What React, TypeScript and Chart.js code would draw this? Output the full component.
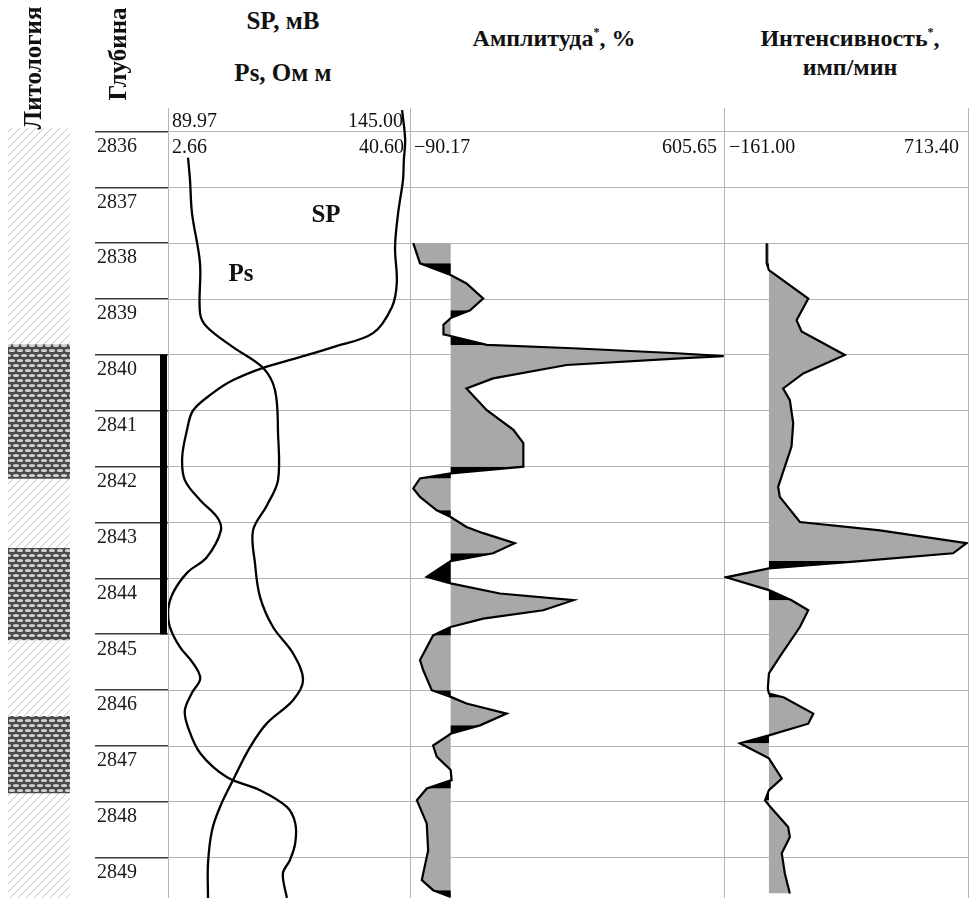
import React, { useEffect, useRef } from "react";
import { Chart, registerables } from "chart.js";

Chart.register(...registerables);
Chart.defaults.font.family = "'Liberation Serif', 'Times New Roman', serif";
Chart.defaults.color = "#000";

// ---------- data ----------
const DEPTH_MIN = 2835.58;
const DEPTH_MAX = 2849.72;
const depthTicks = [2836, 2837, 2838, 2839, 2840, 2841, 2842, 2843, 2844, 2845, 2846, 2847, 2848, 2849];

const spRange = [89.97, 145.0];
const psRange = [2.66, 40.6];
const ampRange = [-90.17, 605.65];
const intRange = [-161.0, 713.4];

const spDepth = [2835.62, 2836.15, 2836.51, 2836.87, 2837.46, 2838.07, 2838.71, 2839.14, 2839.61, 2839.86, 2840.04, 2840.23, 2840.45, 2840.68, 2840.99, 2841.34, 2841.83, 2842.24, 2842.6, 2842.9, 2843.14, 2843.62, 2843.9, 2844.26, 2844.57, 2844.87, 2845.23, 2845.52, 2845.79, 2846.05, 2846.36, 2846.66, 2847.13, 2847.56, 2847.79, 2848.09, 2848.38, 2848.74, 2849.04, 2849.28, 2849.72];
const spValues = [143.2, 143.9, 143.6, 143.4, 142.3, 141.6, 142.0, 140.9, 136.6, 127.5, 120.0, 111.6, 104.8, 100.2, 95.7, 94.3, 93.2, 93.8, 97.3, 101.1, 102.0, 98.8, 94.3, 91.1, 90.0, 90.4, 92.7, 95.7, 97.3, 95.4, 93.8, 94.5, 97.3, 103.4, 110.9, 117.0, 118.9, 118.9, 117.7, 116.1, 117.0];

const psDepth = [2836.47, 2836.87, 2837.46, 2838.36, 2839.25, 2839.5, 2839.86, 2840.23, 2840.63, 2841.4, 2842.24, 2842.69, 2843.14, 2843.73, 2844.33, 2844.87, 2845.34, 2845.82, 2846.18, 2846.59, 2847.02, 2847.61, 2848.09, 2848.51, 2849.1, 2849.72];
const psValues = [5.8, 6.11, 6.42, 7.68, 7.68, 8.77, 12.85, 17.55, 19.44, 19.91, 19.91, 18.18, 15.99, 16.3, 17.08, 19.12, 22.26, 23.83, 22.26, 18.18, 15.52, 12.85, 10.81, 9.56, 8.93, 8.93];

const ampDepth = [2838.0, 2838.36, 2838.57, 2838.72, 2838.99, 2839.2, 2839.34, 2839.46, 2839.63, 2839.66, 2839.82, 2839.88, 2839.97, 2840.02, 2840.06, 2840.18, 2840.42, 2840.6, 2840.99, 2841.34, 2841.58, 2842.0, 2842.12, 2842.21, 2842.39, 2842.54, 2842.78, 2842.9, 2843.08, 2843.19, 2843.37, 2843.55, 2843.69, 2843.97, 2844.09, 2844.27, 2844.39, 2844.57, 2844.72, 2844.87, 2845.02, 2845.46, 2845.64, 2846.0, 2846.12, 2846.24, 2846.42, 2846.63, 2846.78, 2846.99, 2847.19, 2847.43, 2847.61, 2847.76, 2847.97, 2848.39, 2848.87, 2849.4, 2849.58, 2849.7];
const ampValues = [-83, -68, 0, 35, 72, 43, 0, -16, -16, 0, 80, 271, 501, 605, 508, 257, 94, 35, 80, 139, 161, 161, 0, -68, -83, -68, -31, 0, 35, 72, 142, 94, 0, -53, 0, 109, 272, 205, 72, 0, -39, -68, -61, -42, 0, 35, 124, 65, 0, -39, -31, 0, 2, -53, -75, -53, -50, -64, -39, 0];
// depths where a dark (black) shaded segment begins
const ampDarkFrom = [2838.36, 2839.2, 2839.66, 2842.0, 2842.12, 2842.78, 2843.55, 2843.97, 2844.87, 2846.0, 2846.63, 2847.61, 2849.58];

const intDepth = [2838.0, 2838.36, 2838.48, 2838.99, 2839.38, 2839.58, 2840.0, 2840.33, 2840.6, 2840.81, 2841.22, 2841.64, 2842.36, 2842.54, 2842.99, 2843.14, 2843.37, 2843.55, 2843.69, 2843.82, 2843.98, 2844.21, 2844.39, 2844.57, 2844.87, 2845.4, 2845.7, 2845.97, 2846.06, 2846.13, 2846.42, 2846.6, 2846.81, 2846.95, 2847.22, 2847.58, 2847.79, 2847.97, 2848.06, 2848.45, 2848.63, 2848.92, 2849.28, 2849.64];
const intValues = [-8, -8, 0, 141, 99, 117, 272, 123, 51, 75, 87, 81, 33, 39, 111, 398, 708, 660, 326, 0, -154, 0, 81, 141, 111, 39, 0, -4, 0, 54, 159, 141, 0, -104, 0, 46, 0, -14, 0, 69, 75, 46, 57, 75];
const intDarkFrom = [2838.36, 2843.69, 2844.21, 2846.06, 2846.81, 2847.79];

const lithHatch = [2835.95, 2849.72];
const sandIntervals = [
  [2839.82, 2842.21],
  [2843.46, 2845.1],
  [2846.47, 2847.84],
];
const perforation = [2840.0, 2845.0];

// ---------- helpers ----------
const TOP = 108;
const PH = 898 - TOP;
const GRID = "#b4b4b4";
const FILL_GRAY = "#a8a8a8";

const fmt = (v: number) => v.toFixed(2).replace("-", "\u2212");

function depthScale(opts: { grid?: boolean; color?: string; width?: number; labels?: boolean }) {
  return {
    type: "linear",
    min: DEPTH_MIN,
    max: DEPTH_MAX,
    reverse: true,
    position: "left",
    afterFit: (s: any) => {
      s.width = 0;
      s.paddingTop = 0;
      s.paddingBottom = 0;
      s.paddingLeft = 0;
      s.paddingRight = 0;
    },
    afterBuildTicks: (s: any) => {
      s.ticks = depthTicks.map((v) => ({ value: v }));
    },
    ticks: opts.labels
      ? {
          display: true,
          mirror: true,
          padding: 2,
          labelOffset: 15,
          autoSkip: false,
          font: { size: 20 },
          color: "#1a1a1a",
          callback: (v: any) => String(v),
        }
      : { display: false },
    grid: {
      display: !!opts.grid,
      color: opts.color || GRID,
      lineWidth: opts.width || 1,
      drawTicks: false,
    },
    border: { display: false },
  };
}

function edgeScale(range: number[], showGrid: boolean) {
  return {
    type: "linear",
    min: range[0],
    max: range[1],
    position: "top",
    afterFit: (s: any) => {
      s.height = 0;
      s.paddingLeft = 0;
      s.paddingRight = 0;
    },
    afterBuildTicks: (s: any) => {
      s.ticks = [{ value: range[0] }, { value: range[1] }];
    },
    ticks: { display: false },
    grid: { display: showGrid, color: GRID, lineWidth: 1, drawTicks: false },
    border: { display: false },
  };
}

const baseOpts = {
  animation: false,
  responsive: false,
  maintainAspectRatio: false,
  layout: { padding: 0 },
  events: [],
  plugins: { legend: { display: false }, tooltip: { enabled: false } },
};

function pts(depths: number[], values: number[]) {
  return depths.map((d, i) => ({ x: values[i], y: d }));
}

function darkSegments(depths: number[], values: number[], starts: number[]) {
  const out: { x: number | null; y: number }[] = depths.map((d) => ({ x: null, y: d }));
  for (let i = 0; i < values.length - 1; i++) {
    if (starts.includes(depths[i])) {
      out[i] = { x: values[i], y: depths[i] };
      out[i + 1] = { x: values[i + 1], y: depths[i + 1] };
    }
  }
  return out;
}

function filledTrack(depths: number[], values: number[], dark: number[]) {
  const p = pts(depths, values);
  return [
    { data: p, borderColor: "#000", borderWidth: 2.2, pointRadius: 0, fill: false, tension: 0 },
    {
      data: darkSegments(depths, values, dark),
      borderWidth: 0,
      borderColor: "rgba(0,0,0,0)",
      backgroundColor: "#000",
      pointRadius: 0,
      fill: "origin",
      spanGaps: false,
      tension: 0,
    },
    { data: p, borderWidth: 0, borderColor: "rgba(0,0,0,0)", backgroundColor: FILL_GRAY, pointRadius: 0, fill: "origin", tension: 0 },
  ];
}

function makeHatch(): CanvasPattern {
  const c = document.createElement("canvas");
  c.width = 8;
  c.height = 8;
  const g = c.getContext("2d")!;
  g.fillStyle = "#fff";
  g.fillRect(0, 0, 8, 8);
  g.strokeStyle = "#c2c2c2";
  g.lineWidth = 1;
  g.beginPath();
  g.moveTo(-1, 9);
  g.lineTo(9, -1);
  g.moveTo(-1, 1);
  g.lineTo(1, -1);
  g.moveTo(7, 9);
  g.lineTo(9, 7);
  g.stroke();
  return g.createPattern(c, "repeat")!;
}

function makeSand(): CanvasPattern {
  const c = document.createElement("canvas");
  c.width = 8;
  c.height = 10;
  const g = c.getContext("2d")!;
  g.fillStyle = "#4a4a4a";
  g.fillRect(0, 0, 8, 10);
  g.fillStyle = "#d2d2d2";
  const ell = (x: number, y: number) => {
    g.beginPath();
    g.ellipse(x, y, 3.1, 1.5, 0, 0, Math.PI * 2);
    g.fill();
  };
  ell(4, 2.5);
  ell(0, 7.5);
  ell(8, 7.5);
  return g.createPattern(c, "repeat")!;
}

// ---------- text ----------
type TP = {
  x: number;
  y: number;
  align?: "left" | "center" | "right";
  size?: number;
  bold?: boolean;
  rotate?: boolean;
  children: React.ReactNode;
};
function Txt({ x, y, align = "left", size = 20, bold = false, rotate = false, children }: TP) {
  const tx = align === "left" ? "0" : align === "center" ? "-50%" : "-100%";
  return (
    <div
      style={{
        position: "absolute",
        left: x,
        top: y,
        transform: `translate(${tx}, -50%)${rotate ? " rotate(-90deg)" : ""}`,
        transformOrigin: "center center",
        whiteSpace: "nowrap",
        fontSize: size,
        fontWeight: bold ? 700 : 400,
        lineHeight: 1,
        color: "#111",
      }}
    >
      {children}
    </div>
  );
}

const Star = () => <span style={{ fontSize: 12, position: "relative", top: -10 }}>*</span>;

export default function App() {
  const lithRef = useRef<HTMLCanvasElement>(null);
  const depthRef = useRef<HTMLCanvasElement>(null);
  const perfRef = useRef<HTMLCanvasElement>(null);
  const spRef = useRef<HTMLCanvasElement>(null);
  const ampRef = useRef<HTMLCanvasElement>(null);
  const intRef = useRef<HTMLCanvasElement>(null);

  useEffect(() => {
    const charts: Chart[] = [];
    const hatch = makeHatch();
    const sand = makeSand();

    const catX = {
      type: "category",
      afterFit: (s: any) => {
        s.height = 0;
      },
      ticks: { display: false },
      grid: { display: false },
      border: { display: false },
    };

    charts.push(
      new Chart(lithRef.current!, {
        type: "bar",
        data: {
          labels: ["lith"],
          datasets: [
            ...sandIntervals.map((iv) => ({
              data: [iv],
              backgroundColor: sand,
              borderWidth: 0,
              grouped: false,
              barPercentage: 1,
              categoryPercentage: 1,
            })),
            { data: [lithHatch], backgroundColor: hatch, borderWidth: 0, grouped: false, barPercentage: 1, categoryPercentage: 1 },
          ],
        } as any,
        options: { ...baseOpts, scales: { x: catX, y: depthScale({}) } } as any,
      })
    );

    charts.push(
      new Chart(depthRef.current!, {
        type: "line",
        data: { datasets: [] },
        options: {
          ...baseOpts,
          scales: {
            x: edgeScale([0, 1], false),
            y: depthScale({ grid: true, color: "#3a3a3a", width: 1.6, labels: true }),
          },
        } as any,
      })
    );

    charts.push(
      new Chart(perfRef.current!, {
        type: "bar",
        data: {
          labels: ["perf"],
          datasets: [{ data: [perforation], backgroundColor: "#000", borderWidth: 0, barPercentage: 1, categoryPercentage: 1 }],
        } as any,
        options: { ...baseOpts, scales: { x: catX, y: depthScale({}) } } as any,
      })
    );

    charts.push(
      new Chart(spRef.current!, {
        type: "line",
        data: {
          datasets: [
            { data: pts(spDepth, spValues), xAxisID: "x", borderColor: "#000", borderWidth: 2.3, pointRadius: 0, tension: 0.35, fill: false },
            { data: pts(psDepth, psValues), xAxisID: "x2", borderColor: "#000", borderWidth: 2.3, pointRadius: 0, tension: 0.35, fill: false },
          ],
        } as any,
        options: {
          ...baseOpts,
          indexAxis: "y",
          scales: { x: edgeScale(spRange, true), x2: edgeScale(psRange, false), y: depthScale({ grid: true }) },
        } as any,
      })
    );

    charts.push(
      new Chart(ampRef.current!, {
        type: "line",
        data: { datasets: filledTrack(ampDepth, ampValues, ampDarkFrom) } as any,
        options: { ...baseOpts, indexAxis: "y", scales: { x: edgeScale(ampRange, true), y: depthScale({ grid: true }) } } as any,
      })
    );

    charts.push(
      new Chart(intRef.current!, {
        type: "line",
        data: { datasets: filledTrack(intDepth, intValues, intDarkFrom) } as any,
        options: {
          ...baseOpts,
          layout: { padding: { right: 2 } },
          indexAxis: "y",
          scales: { x: edgeScale(intRange, true), y: depthScale({ grid: true }) },
        } as any,
      })
    );

    return () => charts.forEach((c) => c.destroy());
  }, []);

  const cv = (ref: React.RefObject<HTMLCanvasElement>, left: number, width: number) => (
    <canvas
      ref={ref}
      width={width}
      height={PH}
      style={{ position: "absolute", left, top: TOP, width, height: PH, display: "block" }}
    />
  );

  return (
    <div
      style={{
        position: "absolute",
        left: 0,
        top: 0,
        width: 972,
        height: 898,
        background: "#fff",
        overflow: "hidden",
        fontFamily: "'Liberation Serif', 'Times New Roman', serif",
      }}
    >
      {cv(lithRef, 8, 62)}
      {cv(depthRef, 95, 73)}
      {cv(spRef, 168, 242)}
      {cv(ampRef, 410, 314)}
      {cv(intRef, 724, 246)}
      {cv(perfRef, 160, 7)}

      <Txt x={32} y={68} align="center" size={25} bold rotate>
        Литология
      </Txt>
      <Txt x={117} y={54} align="center" size={25} bold rotate>
        Глубина
      </Txt>
      <Txt x={283} y={20} align="center" size={25} bold>
        SP, мВ
      </Txt>
      <Txt x={283} y={72} align="center" size={25} bold>
        Ps, Ом м
      </Txt>
      <Txt x={554} y={38} align="center" size={24} bold>
        Амплитуда<Star />, %
      </Txt>
      <Txt x={850} y={38} align="center" size={24} bold>
        Интенсивность<Star />,
      </Txt>
      <Txt x={850} y={67} align="center" size={24} bold>
        имп/мин
      </Txt>

      <Txt x={172} y={120}>{fmt(spRange[0])}</Txt>
      <Txt x={403} y={120} align="right">{fmt(spRange[1])}</Txt>
      <Txt x={172} y={146}>{fmt(psRange[0])}</Txt>
      <Txt x={404} y={146} align="right">{fmt(psRange[1])}</Txt>
      <Txt x={414} y={146}>{fmt(ampRange[0])}</Txt>
      <Txt x={717} y={146} align="right">{fmt(ampRange[1])}</Txt>
      <Txt x={729} y={146}>{fmt(intRange[0])}</Txt>
      <Txt x={959} y={146} align="right">{fmt(intRange[1])}</Txt>

      <Txt x={326} y={213} align="center" size={25} bold>
        SP
      </Txt>
      <Txt x={241} y={272} align="center" size={25} bold>
        Ps
      </Txt>
    </div>
  );
}
